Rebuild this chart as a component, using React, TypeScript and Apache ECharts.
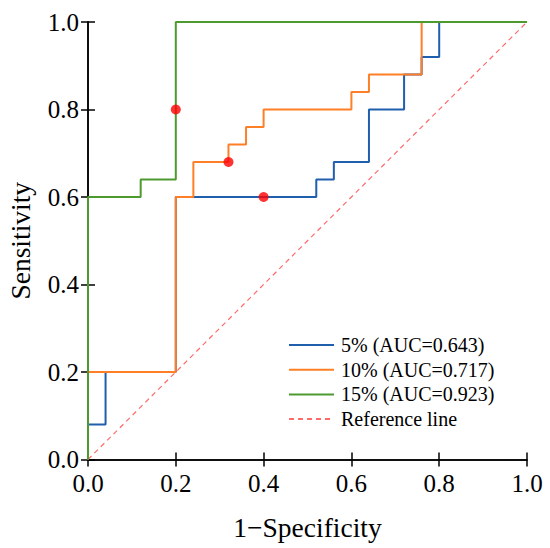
import React, { useEffect, useRef } from "react";
import * as echarts from "echarts";

const blueFpr = [0, 0, 0.04, 0.04, 0.2, 0.2, 0.52, 0.52, 0.56, 0.56, 0.64, 0.64, 0.72, 0.72, 0.76, 0.76, 0.8, 0.8, 1];
const blueTpr = [0, 0.08, 0.08, 0.2, 0.2, 0.6, 0.6, 0.64, 0.64, 0.68, 0.68, 0.8, 0.8, 0.88, 0.88, 0.92, 0.92, 1, 1];

const orangeFpr = [0, 0, 0.2, 0.2, 0.24, 0.24, 0.32, 0.32, 0.36, 0.36, 0.4, 0.4, 0.6, 0.6, 0.64, 0.64, 0.76, 0.76, 1];
const orangeTpr = [0, 0.2, 0.2, 0.6, 0.6, 0.68, 0.68, 0.72, 0.72, 0.76, 0.76, 0.8, 0.8, 0.84, 0.84, 0.88, 0.88, 1, 1];

const greenFpr = [0, 0, 0.12, 0.12, 0.2, 0.2, 1];
const greenTpr = [0, 0.6, 0.6, 0.64, 0.64, 1, 1];

const refFpr = [0, 1];
const refTpr = [0, 1];

const cutFpr = [0.4, 0.32, 0.2];
const cutTpr = [0.6, 0.68, 0.8];

const seriesNames = ["5% (AUC=0.643)", "10% (AUC=0.717)", "15% (AUC=0.923)", "Reference line"];
const tickLabels = ["0.0", "0.2", "0.4", "0.6", "0.8", "1.0"];

const zip = (a: number[], b: number[]) => a.map((v, i) => [v, b[i]]);

const FONT = "Liberation Serif";

export default function App() {
  const ref = useRef<HTMLDivElement>(null);
  useEffect(() => {
    document.body.style.margin = "0";
    const chart = echarts.init(ref.current!, null, { renderer: "svg" });
    const axisCommon = {
      type: "value" as const,
      min: 0,
      max: 1,
      interval: 0.2,
      splitLine: { show: false },
      axisLine: { show: true, lineStyle: { color: "#000", width: 1.5 } },
      axisTick: { show: true, inside: true, length: 7, lineStyle: { color: "#000", width: 1.5 } },
    };
    const fmt = (v: number) => tickLabels[Math.round(v / 0.2)] ?? v.toFixed(1);
    chart.setOption({
      animation: false,
      textStyle: { fontFamily: FONT },
      grid: { left: 88, right: 23, top: 22, bottom: 88.5, containLabel: false, outerBoundsMode: "none" },
      legend: {
        orient: "vertical",
        left: 283,
        top: 330,
        itemWidth: 45,
        itemHeight: 14,
        itemGap: 4.7,
        data: seriesNames,
        itemStyle: { opacity: 0 },
        textStyle: { fontFamily: FONT, fontSize: 20, color: "#000", padding: [0, 0, 0, 2] },
      },
      xAxis: [
        {
          ...axisCommon,
          position: "bottom",
          name: "1\u2212Specificity",
          nameLocation: "middle",
          nameGap: 54,
          nameTextStyle: { fontFamily: FONT, fontSize: 27.5, color: "#000" },
          axisLabel: { fontFamily: FONT, fontSize: 25, color: "#000", margin: 11, formatter: fmt },
        },
        { ...axisCommon, position: "top", axisLabel: { show: false } },
      ],
      yAxis: [
        {
          ...axisCommon,
          position: "left",
          name: "Sensitivity",
          nameLocation: "middle",
          nameGap: 54,
          nameTextStyle: { fontFamily: FONT, fontSize: 27.5, color: "#000" },
          axisLabel: { fontFamily: FONT, fontSize: 25, color: "#000", margin: 9, formatter: fmt },
        },
        { ...axisCommon, position: "right", axisLabel: { show: false } },
      ],
      series: [
        {
          name: seriesNames[0],
          type: "line",
          data: zip(blueFpr, blueTpr),
          symbol: "none",
          clip: false,
          color: "#1f5fae",
          lineStyle: { width: 2, color: "#1f5fae" },
          z: 3,
        },
        {
          name: seriesNames[1],
          type: "line",
          data: zip(orangeFpr, orangeTpr),
          symbol: "none",
          clip: false,
          color: "#ff7f27",
          lineStyle: { width: 2, color: "#ff7f27" },
          z: 4,
        },
        {
          name: seriesNames[2],
          type: "line",
          data: zip(greenFpr, greenTpr),
          symbol: "none",
          clip: false,
          color: "#4d9a2e",
          lineStyle: { width: 2, color: "#4d9a2e" },
          z: 5,
        },
        {
          name: seriesNames[3],
          type: "line",
          data: zip(refFpr, refTpr),
          symbol: "none",
          clip: false,
          color: "#ff6b6b",
          lineStyle: { width: 1.2, color: "#ff6b6b", type: [5, 4] },
          z: 2,
        },
        {
          name: "cutoff",
          type: "scatter",
          data: zip(cutFpr, cutTpr),
          symbol: "circle",
          symbolSize: 10,
          itemStyle: { color: "#ff0000" },
          z: 6,
        },
      ],
    });
    return () => chart.dispose();
  }, []);
  return <div ref={ref} style={{ width: 550, height: 548 }} />;
}
